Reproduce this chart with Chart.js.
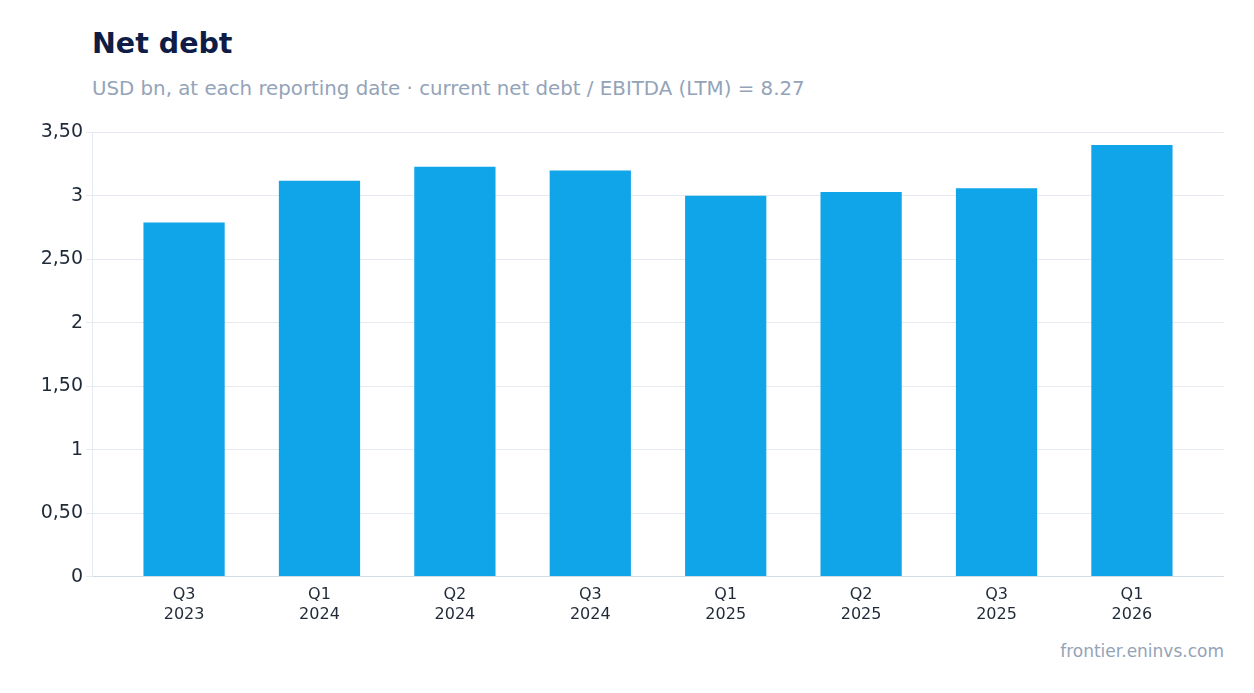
<!DOCTYPE html>
<html>
<head>
<meta charset="utf-8">
<script src="https://cdn.jsdelivr.net/npm/chart.js@4"></script>
<style>
  body { margin: 0; background: #fff; font-family: "DejaVu Sans", sans-serif; width: 1254px; height: 693px; position: relative; overflow: hidden; }
  #title { position: absolute; left: 92px; top: 27px; font-size: 28.5px; font-weight: bold; color: #0f1c45; }
  #subtitle { position: absolute; left: 92px; top: 77px; font-size: 19.8px; color: #94a3b8; }
  #wrap { position: absolute; left: 0; top: 118px; width: 1224px; height: 509px; }
  #footer { position: absolute; right: 30px; top: 641px; font-size: 17px; color: #94a3b8; }
</style>
</head>
<body>
<div id="title">Net debt</div>
<div id="subtitle">USD bn, at each reporting date · current net debt / EBITDA (LTM) = 8.27</div>
<div id="wrap"><canvas id="chart"></canvas></div>
<div id="footer">frontier.eninvs.com</div>
<script>
const periods = [['Q3', '2023'], ['Q1', '2024'], ['Q2', '2024'], ['Q3', '2024'], ['Q1', '2025'], ['Q2', '2025'], ['Q3', '2025'], ['Q1', '2026']];
const netDebt = [2.79, 3.12, 3.23, 3.20, 3.00, 3.03, 3.06, 3.40];

function formatTick(v) {
    return Number.isInteger(v) ? String(v) : v.toFixed(2).replace('.', ',');
}

new Chart(document.getElementById('chart'), {
    type: 'bar',
    data: {
        datasets: [{
            data: netDebt.map((v, i) => ({ x: i, y: v })),
            backgroundColor: '#10a5e8',
            categoryPercentage: 0.6,
            barPercentage: 1
        }]
    },
    options: {
        responsive: true,
        maintainAspectRatio: false,
        animation: false,
        layout: { padding: { top: 10 } },
        plugins: { legend: { display: false }, tooltip: { enabled: false } },
        scales: {
            x: {
                type: 'linear',
                min: -0.68,
                max: 7.68,
                offset: false,
                grid: { display: false, drawTicks: true, tickLength: 6, color: '#cbd5e1' },
                border: { color: '#d5dbe3' },
                ticks: {
                    stepSize: 1,
                    includeBounds: false,
                    color: '#1f2937',
                    font: { family: 'DejaVu Sans', size: 16 },
                    callback: function (v) { return Number.isInteger(v) ? periods[v] : ''; }
                }
            },
            y: {
                min: 0,
                max: 3.5,
                afterFit: function (scale) { scale.width = 92; },
                grid: { color: '#e5e9f0', tickLength: 6 },
                border: { color: '#e5e9f0' },
                ticks: {
                    stepSize: 0.5,
                    color: '#1f2937',
                    font: { family: 'DejaVu Sans', size: 19 },
                    callback: function (v) { return formatTick(v); }
                }
            }
        }
    }
});
</script>
</body>
</html>
